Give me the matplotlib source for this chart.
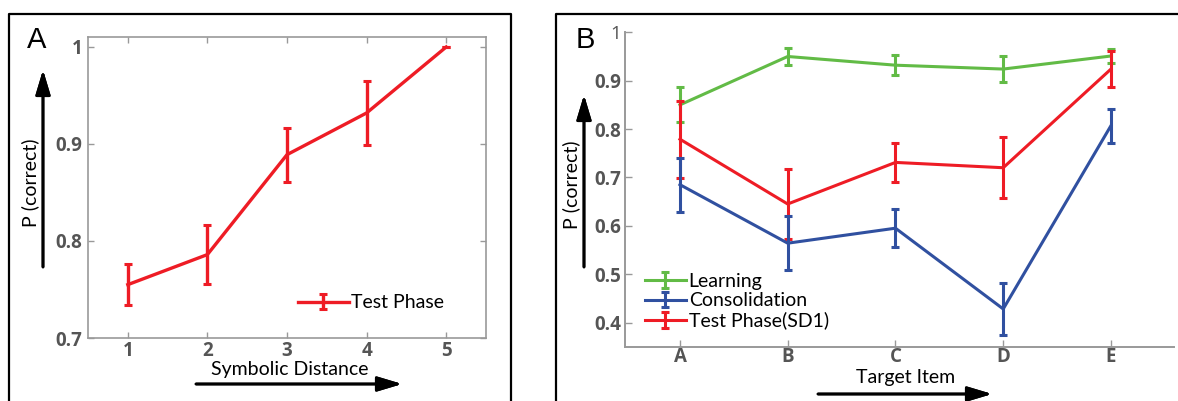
import matplotlib
matplotlib.use("Agg")
import matplotlib.pyplot as plt
from matplotlib.lines import Line2D
from matplotlib.legend_handler import HandlerErrorbar
from matplotlib.container import ErrorbarContainer

plt.rcParams['font.family'] = ['Lato', 'DejaVu Sans']

# Panel A: accuracy by symbolic distance
sd_levels = [1, 2, 3, 4, 5]
sd_mean = [0.755, 0.786, 0.889, 0.932, 1.0]
sd_err = [0.021, 0.030, 0.028, 0.033, 0.0]

# Panel B: accuracy by target item
items = ['A', 'B', 'C', 'D', 'E']
learn_mean = [0.850, 0.950, 0.932, 0.924, 0.951]
learn_err = [0.036, 0.017, 0.021, 0.027, 0.015]
consol_mean = [0.685, 0.564, 0.595, 0.428, 0.807]
consol_err = [0.056, 0.056, 0.039, 0.054, 0.035]
test_mean = [0.779, 0.645, 0.731, 0.720, 0.924]
test_err = [0.080, 0.072, 0.040, 0.063, 0.037]

W, H = 1178, 401
fig = plt.figure(figsize=(W / 100, H / 100), dpi=100)

RED = '#ee1c25'
GREEN = '#62bb46'
BLUE = '#3050a0'
TICK = '#555555'
SPINE = '#999999'
TICKFONT = dict(family=['Open Sans', 'DejaVu Sans'], weight='bold', size=13.5)
ERR_HANDLER = {ErrorbarContainer: HandlerErrorbar(xerr_size=0.4, yerr_size=0.4)}


def fbox(x0, y0, x1, y1):
    """Axes rectangle from pixel edges (top-left origin)."""
    return [x0 / W, 1 - y1 / H, (x1 - x0) / W, (y1 - y0) / H]


def fline(xs, ys, **kw):
    fig.add_artist(Line2D([x / W for x in xs], [1 - y / H for y in ys],
                          transform=fig.transFigure, **kw))


def farrow(x0, y0, x1, y1):
    fig.add_artist(plt.annotate(
        '', xy=(x1 / W, 1 - y1 / H), xytext=(x0 / W, 1 - y0 / H),
        xycoords='figure fraction', textcoords='figure fraction',
        arrowprops=dict(arrowstyle='-|>,head_length=1.5,head_width=0.45',
                        color='black', lw=2.0, shrinkA=0, shrinkB=0)))


def style_ticks(labels):
    for lab in labels:
        lab.set_fontfamily(TICKFONT['family'])
        lab.set_fontweight(TICKFONT['weight'])
        lab.set_fontsize(TICKFONT['size'])


# Panel frames
fline([9, 9, 511, 511], [410, 14, 14, 410], color='black', lw=1.6)
fline([556, 556, 1190], [410, 14, 14], color='black', lw=1.6)

# ---- Panel A ----
axA = fig.add_axes(fbox(88, 37, 486, 338))
axA.errorbar(sd_levels, sd_mean, yerr=sd_err, color=RED, lw=2.4,
             elinewidth=2.4, capsize=3.2, capthick=2.2, label='Test Phase')
axA.set_xlim(0.5, 5.5)
axA.set_ylim(0.7, 1.0103)
axA.set_xticks(sd_levels)
axA.set_yticks([0.7, 0.8, 0.9, 1.0])
axA.set_yticklabels(['0.7', '0.8', '0.9', '1'])
axA.tick_params(direction='in', length=4, width=1, color=SPINE,
                top=True, right=True, labelcolor=TICK)
axA.tick_params(axis='x', pad=2)
axA.tick_params(axis='y', pad=4)
style_ticks(axA.get_xticklabels() + axA.get_yticklabels())
for sp in axA.spines.values():
    sp.set_color(SPINE)
    sp.set_linewidth(1.2)
axA.legend(loc='center left', bbox_to_anchor=(298 / W, 1 - 303 / H),
           bbox_transform=fig.transFigure, frameon=False, fontsize=14,
           handlelength=2.6, handletextpad=0.15, borderpad=0, borderaxespad=0,
           handler_map=ERR_HANDLER)

fig.text(37 / W, 1 - 40 / H, 'A', fontsize=21, ha='center', va='center',
         family='Liberation Sans')
fig.text(30 / W, 1 - 183 / H, 'P (correct)', rotation=90, fontsize=14,
         ha='center', va='center')
farrow(43, 267, 43, 70)
fig.text(290 / W, 1 - 370 / H, 'Symbolic Distance', fontsize=14,
         ha='center', va='center')
farrow(196, 384, 402, 384)

# ---- Panel B ----
axB = fig.add_axes(fbox(625, 32.3, 1174, 346.7))
xpos = list(range(len(items)))
eb_kw = dict(lw=2.2, elinewidth=2.2, capsize=2.6, capthick=2.2)
hL = axB.errorbar(xpos, learn_mean, yerr=learn_err, color=GREEN,
                  label='Learning', zorder=2, **eb_kw)
hT = axB.errorbar(xpos, test_mean, yerr=test_err, color=RED,
                  label='Test Phase(SD1)', zorder=3, **eb_kw)
hC = axB.errorbar(xpos, consol_mean, yerr=consol_err, color=BLUE,
                  label='Consolidation', zorder=4, **eb_kw)
axB.set_xlim(-0.51, 4.585)
axB.set_ylim(0.35, 1.0)
axB.set_xticks(xpos)
axB.set_xticklabels(items)
axB.set_yticks([0.4, 0.5, 0.6, 0.7, 0.8, 0.9, 1.0])
axB.set_yticklabels(['0.4', '0.5', '0.6', '0.7', '0.8', '0.9', '1'])
axB.tick_params(direction='in', length=5, width=1, color=SPINE,
                labelcolor=TICK)
axB.tick_params(axis='x', pad=0.5)
axB.tick_params(axis='y', pad=3)
style_ticks(axB.get_xticklabels() + axB.get_yticklabels())
axB.get_yticklabels()[-1].set_fontweight('normal')
for side in ('top', 'right'):
    axB.spines[side].set_visible(False)
for side in ('left', 'bottom'):
    axB.spines[side].set_color(SPINE)
    axB.spines[side].set_linewidth(1.4)
axB.legend([hL, hC, hT], ['Learning', 'Consolidation', 'Test Phase(SD1)'],
           loc='upper left', bbox_to_anchor=(645 / W, 1 - 273 / H),
           bbox_transform=fig.transFigure, frameon=False, fontsize=14,
           handlelength=2.1, handletextpad=0.15, borderpad=0,
           borderaxespad=0, labelspacing=0.12, handler_map=ERR_HANDLER)

fig.text(585 / W, 1 - 40 / H, 'B', fontsize=21, ha='center', va='center',
         family='Liberation Sans')
fig.text(571 / W, 1 - 185 / H, 'P (correct)', rotation=90, fontsize=14,
         ha='center', va='center')
farrow(584, 267, 584, 95)
fig.text(906 / W, 1 - 377 / H, 'Target Item', fontsize=14,
         ha='center', va='center')
farrow(818, 394, 992, 394)

fig.savefig('out.png', dpi=100)
